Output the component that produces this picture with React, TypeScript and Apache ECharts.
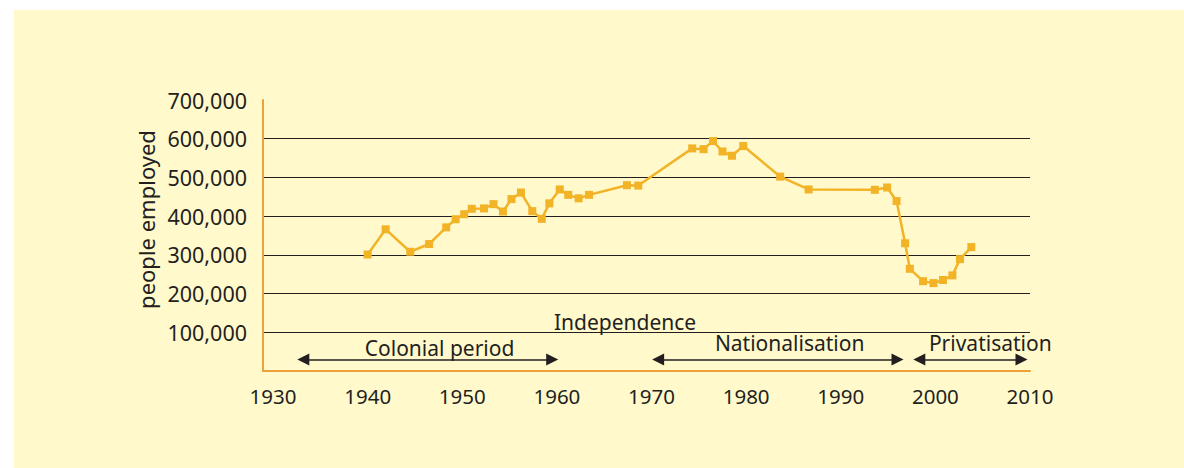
import React, { useEffect, useRef } from "react";
import * as echarts from "echarts";

// ---- data ----
const years = [
  1940.0, 1941.9, 1944.5, 1946.5, 1948.3, 1949.3, 1950.2, 1951.0, 1952.3, 1953.3,
  1954.3, 1955.2, 1956.2, 1957.4, 1958.4, 1959.2, 1960.3, 1961.2, 1962.3, 1963.4,
  1967.4, 1968.6, 1974.3, 1975.5, 1976.5, 1977.5, 1978.5, 1979.7, 1983.6, 1986.6,
  1993.6, 1994.9, 1995.9, 1996.8, 1997.3, 1998.7, 1999.8, 2000.8, 2001.8, 2002.6,
  2003.8,
];
const employed = [
  301000, 366000, 308000, 328000, 371000, 392000, 405000, 419000, 420000, 431000,
  412000, 444000, 461000, 413000, 393000, 433000, 469000, 455000, 446000, 455000,
  480000, 479000, 575000, 573000, 594000, 567000, 556000, 581000, 502000, 469000,
  468000, 474000, 439000, 330000, 264000, 232000, 227000, 235000, 247000, 289000,
  320000,
];
const xTickLabels = [1930, 1940, 1950, 1960, 1970, 1980, 1990, 2000, 2010];
const periodNames = ["Colonial period", "Nationalisation", "Privatisation"];
const periodStart = [1933.2, 1970.7, 1998.3];
const periodEnd = [1959.5, 1996.0, 2009.1];
const periodArrowValue = 30000;
const periodLabelYear = [1947.6, 1984.6, 2005.8];
const periodLabelValue = [60000, 71500, 71500];
const eventNames = ["Independence"];
const eventYear = [1967.2];
const eventValue = [127000];

const TEXT = "#231f20";
const FONT = "Noto Sans";

export default function App() {
  const ref = useRef<HTMLDivElement>(null);

  useEffect(() => {
    if (!ref.current) return;
    const chart = echarts.init(ref.current, undefined, { renderer: "svg" });

    const arrows = periodStart.map((s, i) => [
      { coord: [s, periodArrowValue] },
      { coord: [periodEnd[i], periodArrowValue] },
    ]);

    chart.setOption({
      animation: false,
      backgroundColor: "#ffffff",
      textStyle: { fontFamily: FONT },
      grid: { left: 263, top: 100, right: 154, bottom: 97, containLabel: false },
      xAxis: {
        type: "value",
        min: 1928.94,
        max: 2010,
        axisLine: { show: true, lineStyle: { color: "#eca13a", width: 2 } },
        axisTick: { show: false },
        splitLine: { show: false },
        axisLabel: {
          customValues: xTickLabels,
          fontSize: 20.5,
          color: TEXT,
          fontFamily: FONT,
          margin: 14,
          formatter: (v: number) => String(Math.round(v)),
        },
      },
      yAxis: {
        type: "value",
        min: 0,
        max: 700000,
        interval: 100000,
        name: "people employed",
        nameLocation: "middle",
        nameGap: 106,
        nameTextStyle: {
          fontSize: 22,
          color: TEXT,
          fontFamily: FONT,
          padding: [0, 0, 0, 32],
        },
        axisLine: { show: true, lineStyle: { color: "#eca13a", width: 2 } },
        axisTick: { show: false },
        splitLine: {
          show: true,
          showMaxLine: false,
          showMinLine: false,
          lineStyle: { color: TEXT, width: 1 },
        },
        axisLabel: {
          fontSize: 21.5,
          color: TEXT,
          fontFamily: FONT,
          margin: 16,
          formatter: (v: number) => (v === 0 ? "" : v.toLocaleString("en-US")),
        },
      },
      series: [
        {
          type: "line",
          data: years.map((y, i) => [y, employed[i]]),
          symbol: "rect",
          symbolSize: 8,
          itemStyle: { color: "#f2b327" },
          lineStyle: { color: "#f2b327", width: 2.5 },
          silent: true,
          z: 5,
          markLine: {
            silent: true,
            symbol: ["triangle", "triangle"],
            symbolSize: [12, 12],
            label: { show: false },
            lineStyle: { color: TEXT, width: 1.5, type: "solid" },
            emphasis: { disabled: true },
            data: arrows,
          },
        },
      ],
    });

    const labels = [
      ...periodNames.map((n, i) => ({ text: n, c: [periodLabelYear[i], periodLabelValue[i]] })),
      ...eventNames.map((n, i) => ({ text: n, c: [eventYear[i], eventValue[i]] })),
    ];
    const texts = labels.map((l) => {
      const p = chart.convertToPixel({ gridIndex: 0 }, l.c) as number[];
      return {
        type: "text",
        x: p[0],
        y: p[1],
        z: 10,
        style: {
          text: l.text,
          fontSize: 21,
          fontFamily: FONT,
          fill: TEXT,
          align: "center",
          verticalAlign: "middle",
        },
      };
    });

    chart.setOption({
      graphic: [
        {
          type: "rect",
          z: -100,
          silent: true,
          shape: { x: 14, y: 10, width: 1170, height: 458 },
          style: { fill: "#fff9cc" },
        },
        ...texts,
      ],
    });

    return () => chart.dispose();
  }, []);

  return (
    <div
      ref={ref}
      style={{ position: "fixed", left: 0, top: 0, width: 1184, height: 468 }}
    />
  );
}
